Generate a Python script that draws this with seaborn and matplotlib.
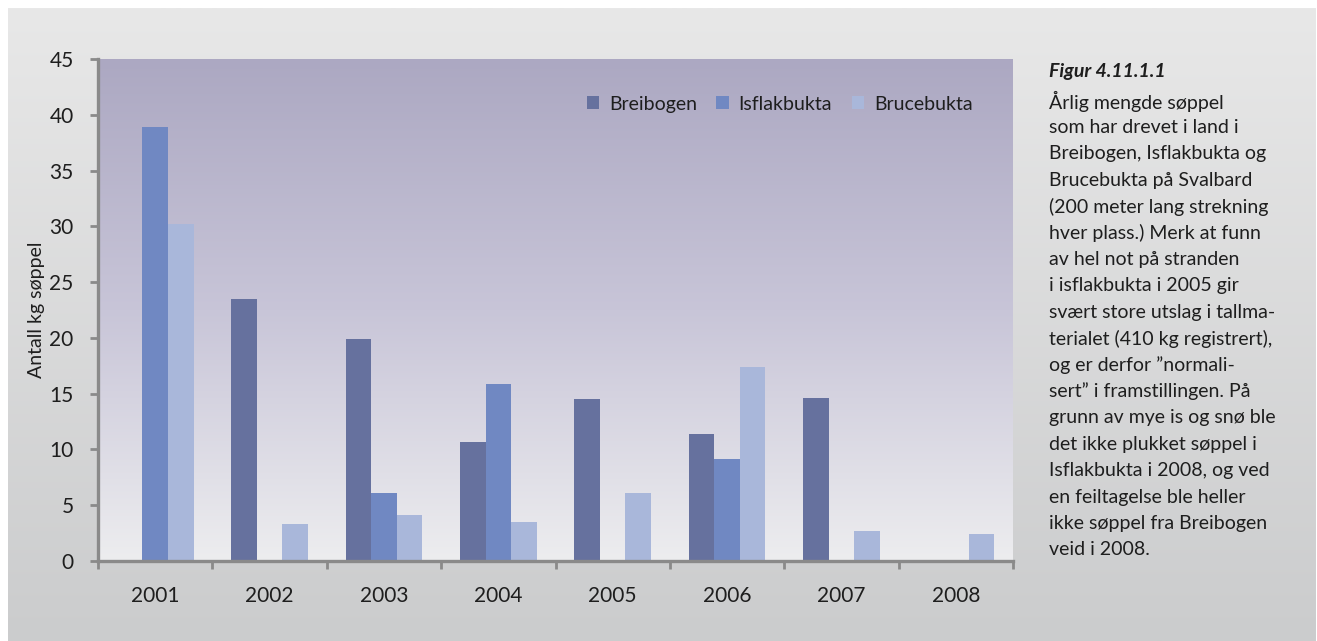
import numpy as np
import pandas as pd
import matplotlib
matplotlib.use("Agg")
import matplotlib.pyplot as plt
from matplotlib.colors import LinearSegmentedColormap
import seaborn as sns

years = ["2001", "2002", "2003", "2004", "2005", "2006", "2007", "2008"]
sites = ["Breibogen", "Isflakbukta", "Brucebukta"]
breibogen = [0, 23.5, 19.9, 10.7, 14.5, 11.4, 14.6, 0]
isflakbukta = [38.9, 0, 6.1, 15.9, 0, 9.1, 0, 0]
brucebukta = [30.2, 3.3, 4.1, 3.5, 6.1, 17.4, 2.7, 2.4]
colors = ["#66719e", "#7088c2", "#a9b7da"]
yticks = [0, 5, 10, 15, 20, 25, 30, 35, 40, 45]
ylabel = "Antall kg søppel"
caption_title = "Figur 4.11.1.1"
caption_lines = [
    "Årlig mengde søppel",
    "som har drevet i land i",
    "Breibogen, Isflakbukta og",
    "Brucebukta på Svalbard",
    "(200 meter lang strekning",
    "hver plass.) Merk at funn",
    "av hel not på stranden",
    "i isflakbukta i 2005 gir",
    "svært store utslag i tallma-",
    "terialet (410 kg registrert),",
    "og er derfor ”normali-",
    "sert” i framstillingen. På",
    "grunn av mye is og snø ble",
    "det ikke plukket søppel i",
    "Isflakbukta i 2008, og ved",
    "en feiltagelse ble heller",
    "ikke søppel fra Breibogen",
    "veid i 2008.",
]

df = pd.DataFrame({
    "year": years * 3,
    "site": [sites[0]] * 8 + [sites[1]] * 8 + [sites[2]] * 8,
    "value": breibogen + isflakbukta + brucebukta,
})

sns.set_theme(style="white")
plt.rcParams["font.family"] = ["Lato", "DejaVu Sans"]
txt = "#1e1e1e"

W, H = 1317, 641
fig = plt.figure(figsize=(W / 100, H / 100), dpi=100)
fig.patch.set_facecolor("white")

# grey panel background with gradient
bg = fig.add_axes([8 / W, 0, (W - 9) / W, (H - 8) / H], zorder=-10)
cm_bg = LinearSegmentedColormap.from_list("bg", ["#cbcccd", "#e8e8e8"])
bg.imshow(np.linspace(0, 1, 256).reshape(-1, 1), cmap=cm_bg, aspect="auto",
          origin="lower", extent=[0, 1, 0, 1])
bg.set_axis_off()

left, right, top, bottom = 98, 1013, 59, 561
ax = fig.add_axes([left / W, (H - bottom) / H, (right - left) / W, (bottom - top) / H])
ax.patch.set_alpha(0)

cm_plot = LinearSegmentedColormap.from_list("pl", ["#ededef", "#c8c5d8", "#aca8c2"])
ax.imshow(np.linspace(0, 1, 256).reshape(-1, 1), cmap=cm_plot, aspect="auto",
          origin="lower", extent=[0, 1, 0, 1], transform=ax.transAxes, zorder=0)

sns.barplot(data=df, x="year", y="value", hue="site", hue_order=sites,
            palette=colors, saturation=1, width=0.67, gap=0, linewidth=0,
            ax=ax, zorder=2)

ax.set_xlim(-0.5, 7.5)
ax.set_ylim(0, 45)
ax.set_yticks(yticks)
ax.set_yticklabels([str(v) for v in yticks])
ax.set_xlabel("")
ax.set_ylabel(ylabel, fontsize=14, color=txt)
ax.yaxis.set_label_coords(-0.058, 0.5)

for s in ["top", "right"]:
    ax.spines[s].set_visible(False)
for s in ["left", "bottom"]:
    ax.spines[s].set_color("#8a8a8a")
    ax.spines[s].set_linewidth(2.4)

ax.tick_params(axis="y", which="major", direction="out", length=5.5, width=2,
               color="#8a8a8a", labelsize=15, labelcolor=txt, pad=12, left=True)
ax.tick_params(axis="x", which="major", length=0, labelsize=15, labelcolor=txt, pad=18)
ax.set_xticks(np.arange(-0.5, 8.0, 1.0), minor=True)
ax.tick_params(axis="x", which="minor", direction="out", length=5.5, width=2,
               color="#8a8a8a", bottom=True)

leg = ax.legend(ncol=3, frameon=False, loc="center right",
                bbox_to_anchor=(0.975, 0.91), fontsize=14,
                handlelength=0.65, handleheight=0.65, handletextpad=0.5,
                columnspacing=1.0, labelcolor=txt)

# caption
x0 = 1049 / W
y_title = 71
y_first = 101
step = 26.4
fig.text(x0, 1 - y_title / H, caption_title, fontsize=14, fontweight="bold",
         fontstyle="italic", color=txt, va="center", ha="left")
for i, line in enumerate(caption_lines):
    fig.text(x0, 1 - (y_first + i * step) / H, line, fontsize=14,
             color=txt, va="center", ha="left")

fig.savefig("out.png", dpi=100)
